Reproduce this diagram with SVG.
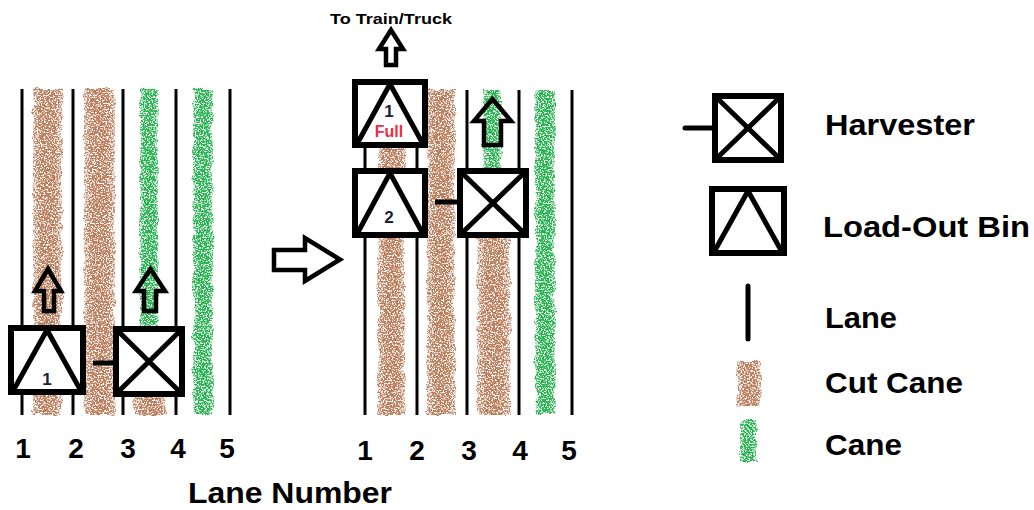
<svg xmlns="http://www.w3.org/2000/svg" width="1034" height="510" viewBox="0 0 1034 510">
  <style>
    .lane { stroke: #000; stroke-width: 3; fill: none; }
    .box { fill: #fff; stroke: #000; stroke-width: 6; }
    .mark { fill: none; stroke: #000; stroke-width: 5; }
    .hitch { stroke: #000; stroke-width: 5; fill: none; }
    .arrow { fill: none; stroke: #000; stroke-width: 4.5; stroke-linejoin: miter; }
    .cut { fill: url(#cutFill); filter: url(#grain); }
    .cane { fill: url(#caneFill); filter: url(#grain); }
    .lbl { font-family: "Liberation Sans", Arial, sans-serif; font-weight: bold; fill: #000; }
    .num { font-size: 28px; text-anchor: middle; }
    .key { font-size: 30px; }
    .bin-no { font-size: 17px; text-anchor: middle; fill: #1a2238; }
    .full { font-size: 16px; text-anchor: middle; fill: #ee2d45; }
  </style>
  <defs>
    <!-- row colour, thinning out toward the row edges -->
    <linearGradient id="cutFill">
      <stop offset="0" stop-color="#b97a57" stop-opacity="0.6"/>
      <stop offset="0.3" stop-color="#b97a57" stop-opacity="1"/>
      <stop offset="0.7" stop-color="#b97a57" stop-opacity="1"/>
      <stop offset="1" stop-color="#b97a57" stop-opacity="0.6"/>
    </linearGradient>
    <linearGradient id="caneFill">
      <stop offset="0" stop-color="#22b14c" stop-opacity="0.6"/>
      <stop offset="0.3" stop-color="#22b14c" stop-opacity="1"/>
      <stop offset="0.7" stop-color="#22b14c" stop-opacity="1"/>
      <stop offset="1" stop-color="#22b14c" stop-opacity="0.6"/>
    </linearGradient>
    <!-- speckled, slightly ragged fill for the cane rows -->
    <filter id="grain" x="-0.5" y="-0.05" width="2" height="1.1" color-interpolation-filters="sRGB">
      <feTurbulence type="fractalNoise" baseFrequency="0.65" numOctaves="2" seed="7" result="fine"/>
      <feTurbulence type="fractalNoise" baseFrequency="0.12" numOctaves="1" seed="3" result="coarse"/>
      <feDisplacementMap in="SourceGraphic" in2="coarse" scale="7" xChannelSelector="R" yChannelSelector="G" result="ragged"/>
      <!-- noise scaled by the row's own opacity, then stepped into speckles -->
      <feColorMatrix in="fine" type="matrix" values="0 0 0 0 0  0 0 0 0 0  0 0 0 0 0  2.2 0 0 0 -0.6" result="n"/>
      <feComposite in="n" in2="ragged" operator="in" result="prod"/>
      <feComponentTransfer in="prod" result="mask">
        <feFuncA type="discrete" tableValues="0 0.35 0.85 1 1"/>
      </feComponentTransfer>
      <!-- solid row colour, so speckles keep a clean tint -->
      <feComponentTransfer in="ragged" result="solid">
        <feFuncA type="discrete" tableValues="0 1 1 1"/>
      </feComponentTransfer>
      <feComposite in="solid" in2="mask" operator="in"/>
    </filter>
  </defs>

  <rect width="1034" height="510" fill="#fff"/>

  <!-- left field: before the bin swap -->
  <g id="field-before">
    <g id="rows-before">
      <rect class="cut" x="33" y="89" width="29" height="326"/>
      <rect class="cut" x="84" y="89" width="31" height="326"/>
      <rect class="cane" x="140" y="89" width="18" height="237"/>
      <rect class="cut" x="133" y="395" width="33" height="20"/>
      <rect class="cane" x="193" y="89" width="20" height="326"/>
    </g>
    <g id="lanes-before">
      <line class="lane" x1="22" y1="89" x2="22" y2="415"/>
      <line class="lane" x1="73" y1="89" x2="73" y2="415"/>
      <line class="lane" x1="123" y1="89" x2="123" y2="415"/>
      <line class="lane" x1="176" y1="89" x2="176" y2="415"/>
      <line class="lane" x1="230" y1="89" x2="230" y2="415"/>
    </g>
    <g id="bin1-before">
      <rect class="box" x="11" y="328" width="72" height="64"/>
      <path class="mark" d="M13 391 L47 330 L81 391"/>
      <text class="lbl bin-no" x="47" y="385" font-size="16">1</text>
    </g>
    <g id="harvester-before">
      <rect class="box" x="116" y="329" width="66" height="65"/>
      <path class="mark" d="M118 331 L180 392 M180 331 L118 392"/>
    </g>
  </g>

  <!-- middle field: after the bin swap -->
  <g id="field-after">
    <g id="rows-after">
      <rect class="cut" x="378" y="148" width="27" height="267"/>
      <rect class="cut" x="427" y="90" width="28" height="325"/>
      <rect class="cut" x="477" y="236" width="33" height="179"/>
      <rect class="cane" x="483" y="90" width="18" height="80"/>
      <rect class="cane" x="535" y="90" width="20" height="325"/>
    </g>
    <g id="lanes-after">
      <line class="lane" x1="365" y1="90" x2="365" y2="415"/>
      <line class="lane" x1="417" y1="90" x2="417" y2="415"/>
      <line class="lane" x1="467" y1="90" x2="467" y2="415"/>
      <line class="lane" x1="519" y1="90" x2="519" y2="415"/>
      <line class="lane" x1="572" y1="90" x2="572" y2="415"/>
    </g>
    <g id="bin1-after">
      <rect class="box" x="355" y="82" width="70" height="63"/>
      <path class="mark" d="M357 144 L390 84 L423 144"/>
      <text class="lbl bin-no" x="389" y="117">1</text>
      <text class="lbl full" x="389" y="137">Full</text>
    </g>
    <g id="bin2-after">
      <rect class="box" x="355" y="171" width="70" height="64"/>
      <path class="mark" d="M357 234 L390 173 L423 234"/>
      <text class="lbl bin-no" x="389" y="223">2</text>
    </g>
    <g id="harvester-after">
      <rect class="box" x="460" y="171" width="66" height="64"/>
      <path class="mark" d="M462 173 L524 233 M524 173 L462 233"/>
    </g>
    <text class="lbl" x="391" y="24" font-size="14" text-anchor="middle" textLength="122" lengthAdjust="spacingAndGlyphs">To Train/Truck</text>
  </g>

  <!-- hitches, travel arrows and the before/after arrow -->
  <g id="connectors">
    <line class="hitch" x1="93" y1="363" x2="116" y2="363"/>
    <line class="hitch" x1="435" y1="202" x2="460" y2="202"/>
    <polygon class="arrow" points="48,269 61,291 54,291 54,311 44,311 44,291 35,291"/>
    <polygon class="arrow" points="150.5,269 165,291 156,291 156,311 144,311 144,291 136,291"/>
    <polygon class="arrow" points="391,30 403,49 396,49 396,65 386,65 386,49 379,49"/>
    <polygon class="arrow" points="492.5,99 511,121 501,121 501,145 484,145 484,121 474,121"/>
    <polygon class="arrow" points="274,250 305,250 305,238 340,259.5 305,281 305,270 274,270"/>
  </g>

  <!-- lane numbers -->
  <g id="lane-numbers" class="lbl">
    <text class="num" x="23" y="458">1</text>
    <text class="num" x="76" y="458">2</text>
    <text class="num" x="128" y="458">3</text>
    <text class="num" x="178" y="458">4</text>
    <text class="num" x="227" y="458">5</text>
    <text class="num" x="365" y="460">1</text>
    <text class="num" x="417" y="460">2</text>
    <text class="num" x="469" y="460">3</text>
    <text class="num" x="520" y="460">4</text>
    <text class="num" x="569" y="460">5</text>
    <text x="188" y="503" font-size="30" textLength="204" lengthAdjust="spacingAndGlyphs">Lane Number</text>
  </g>

  <!-- key -->
  <g id="legend">
    <g id="key-harvester">
      <line class="hitch" x1="685" y1="128" x2="715" y2="128" stroke-linecap="round"/>
      <rect class="box" x="715" y="96" width="66" height="64"/>
      <path class="mark" d="M717 98 L779 158 M779 98 L717 158"/>
      <text class="lbl key" x="825" y="135" textLength="150" lengthAdjust="spacingAndGlyphs">Harvester</text>
    </g>
    <g id="key-bin">
      <rect class="box" x="712" y="189" width="72" height="64"/>
      <path class="mark" d="M714 252 L748 191 L782 252"/>
      <text class="lbl key" x="823" y="237" textLength="207" lengthAdjust="spacingAndGlyphs">Load-Out Bin</text>
    </g>
    <g id="key-lane">
      <line x1="748" y1="286" x2="748" y2="339" stroke="#000" stroke-width="5" stroke-linecap="round"/>
      <text class="lbl key" x="825" y="328" textLength="72" lengthAdjust="spacingAndGlyphs">Lane</text>
    </g>
    <g id="key-cut">
      <rect class="cut" x="737" y="361" width="24" height="45"/>
      <text class="lbl key" x="825" y="393" textLength="138" lengthAdjust="spacingAndGlyphs">Cut Cane</text>
    </g>
    <g id="key-cane">
      <rect class="cane" x="740" y="420" width="17" height="42"/>
      <text class="lbl key" x="825" y="455" textLength="77" lengthAdjust="spacingAndGlyphs">Cane</text>
    </g>
  </g>
</svg>
